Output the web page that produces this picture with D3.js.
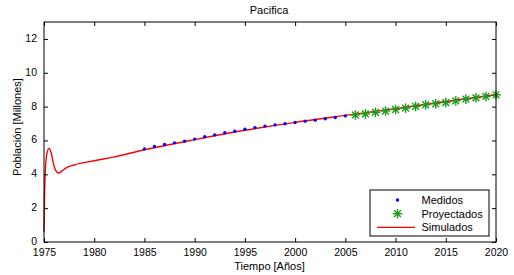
<!DOCTYPE html>
<html>
<head>
<meta charset="utf-8">
<script src="https://cdn.jsdelivr.net/npm/d3@7"></script>
<style>
  body { margin: 0; background: #fff; }
  svg { font-family: "Liberation Sans", Arial, Helvetica, sans-serif; }
</style>
</head>
<body>
<div id="chart"></div>
<script>
// Medidos (measured)
const medYears = [1985, 1986, 1987, 1988, 1989, 1990, 1991, 1992, 1993, 1994, 1995,
  1996, 1997, 1998, 1999, 2000, 2001, 2002, 2003, 2004, 2005];
const medValues = [5.50, 5.64, 5.76, 5.86, 5.96, 6.08, 6.22, 6.33, 6.46, 6.55, 6.66,
  6.76, 6.85, 6.92, 6.99, 7.06, 7.14, 7.20, 7.28, 7.36, 7.45];

// Proyectados (projected)
const projYears = [2006, 2007, 2008, 2009, 2010, 2011, 2012, 2013, 2014, 2015,
  2016, 2017, 2018, 2019, 2020];
const projValues = [7.51, 7.57, 7.66, 7.74, 7.83, 7.91, 8.01, 8.11, 8.17, 8.24,
  8.34, 8.44, 8.52, 8.60, 8.70];

// Simulados (simulated curve)
const simYears = [1975, 1975.05, 1975.15, 1975.3, 1975.5, 1975.7, 1975.95, 1976.25,
  1976.5, 1976.8, 1977.2, 1978, 1980, 1982, 1985, 1990, 1995, 2000, 2005, 2010, 2015, 2020];
const simValues = [0.6, 2.6, 4.4, 5.25, 5.53, 5.3, 4.6, 4.15,
  4.07, 4.2, 4.38, 4.55, 4.8, 5.03, 5.45, 6.05, 6.6, 7.07, 7.48, 7.88, 8.3, 8.7];

const xTicks = [1975, 1980, 1985, 1990, 1995, 2000, 2005, 2010, 2015, 2020];
const yTicks = [0, 2, 4, 6, 8, 10, 12];

const width = 514, height = 275;
const margin = { top: 22, right: 18, bottom: 33, left: 44 };

const svg = d3.select("#chart").append("svg")
  .attr("width", width)
  .attr("height", height);

const x = d3.scaleLinear()
  .domain([1975, 2020])
  .range([margin.left, width - margin.right]);

const y = d3.scaleLinear()
  .domain([0, 13])
  .range([height - margin.bottom, margin.top]);

const x0 = margin.left, x1 = width - margin.right;
const y0 = height - margin.bottom, y1 = margin.top;

// Simulated line
const line = d3.line()
  .x(d => x(d[0]))
  .y(d => y(d[1]))
  .curve(d3.curveMonotoneX);

svg.append("path")
  .datum(simYears.map((yr, i) => [yr, simValues[i]]))
  .attr("fill", "none")
  .attr("stroke", "#ff0000")
  .attr("stroke-width", 1.4)
  .attr("d", line);

// Measured dots
svg.append("g")
  .selectAll("circle")
  .data(medYears.map((yr, i) => [yr, medValues[i]]))
  .join("circle")
  .attr("cx", d => x(d[0]))
  .attr("cy", d => y(d[1]))
  .attr("r", 1.7)
  .attr("fill", "#0000ff");

// Asterisk marker
function asterisk(g, r) {
  for (let k = 0; k < 4; k++) {
    const a = k * Math.PI / 4;
    g.append("line")
      .attr("x1", -r * Math.cos(a)).attr("y1", -r * Math.sin(a))
      .attr("x2", r * Math.cos(a)).attr("y2", r * Math.sin(a));
  }
}

svg.append("g")
  .selectAll("g")
  .data(projYears.map((yr, i) => [yr, projValues[i]]))
  .join("g")
  .attr("transform", d => `translate(${x(d[0])},${y(d[1])})`)
  .attr("stroke", "#1a9a1a")
  .attr("stroke-width", 1.4)
  .each(function() { asterisk(d3.select(this), 4.8); });

// Axes box with inward ticks
const axisStyle = g => {
  g.select(".domain").remove();
  g.selectAll("line").attr("stroke", "#000");
  g.selectAll("text").attr("fill", "#000").attr("font-size", "10.5px")
    .attr("font-family", "Liberation Sans, Arial, sans-serif");
};

svg.append("g")
  .attr("transform", `translate(0,${y0})`)
  .call(d3.axisBottom(x).tickValues(xTicks).tickFormat(d3.format("d"))
    .tickSizeInner(-4).tickSizeOuter(0).tickPadding(7))
  .call(axisStyle);

svg.append("g")
  .attr("transform", `translate(0,${y1})`)
  .call(d3.axisTop(x).tickValues(xTicks).tickFormat("")
    .tickSizeInner(-4).tickSizeOuter(0))
  .call(axisStyle);

svg.append("g")
  .attr("transform", `translate(${x0},0)`)
  .call(d3.axisLeft(y).tickValues(yTicks).tickFormat(d3.format("d"))
    .tickSizeInner(-4).tickSizeOuter(0).tickPadding(7))
  .call(axisStyle)
  .call(g => g.selectAll("text").attr("dy", "0.24em"));

svg.append("g")
  .attr("transform", `translate(${x1},0)`)
  .call(d3.axisRight(y).tickValues(yTicks).tickFormat("")
    .tickSizeInner(-4).tickSizeOuter(0))
  .call(axisStyle);

svg.append("rect")
  .attr("x", x0).attr("y", y1)
  .attr("width", x1 - x0).attr("height", y0 - y1)
  .attr("fill", "none")
  .attr("stroke", "#000")
  .attr("stroke-width", 1);

// Titles
svg.append("text")
  .attr("x", 269)
  .attr("y", 14)
  .attr("text-anchor", "middle")
  .attr("font-size", "11px")
  .text("Pacifica");

svg.append("text")
  .attr("x", 269.5)
  .attr("y", 270)
  .attr("text-anchor", "middle")
  .attr("font-size", "11px")
  .text("Tiempo [Años]");

svg.append("text")
  .attr("transform", "translate(20.5,127) rotate(-90)")
  .attr("text-anchor", "middle")
  .attr("font-size", "11px")
  .text("Población [Millones]");

// Legend
const legend = svg.append("g").attr("transform", "translate(370,190)");
legend.append("rect")
  .attr("width", 119).attr("height", 46)
  .attr("fill", "#fff").attr("stroke", "#000");

const entries = ["Medidos", "Proyectados", "Simulados"];
entries.forEach((name, i) => {
  const ly = 10 + i * 13.7;
  if (i === 0) {
    legend.append("circle").attr("cx", 27.5).attr("cy", ly).attr("r", 1.7).attr("fill", "#0000ff");
  } else if (i === 1) {
    const g = legend.append("g").attr("transform", `translate(27.5,${ly})`)
      .attr("stroke", "#1a9a1a").attr("stroke-width", 1.4);
    asterisk(g, 4.8);
  } else {
    legend.append("line").attr("x1", 7).attr("x2", 45).attr("y1", ly).attr("y2", ly)
      .attr("stroke", "#ff0000").attr("stroke-width", 1.4);
  }
  legend.append("text")
    .attr("x", 51.5).attr("y", ly + 4)
    .attr("font-size", "11px")
    .text(name);
});
</script>
</body>
</html>
